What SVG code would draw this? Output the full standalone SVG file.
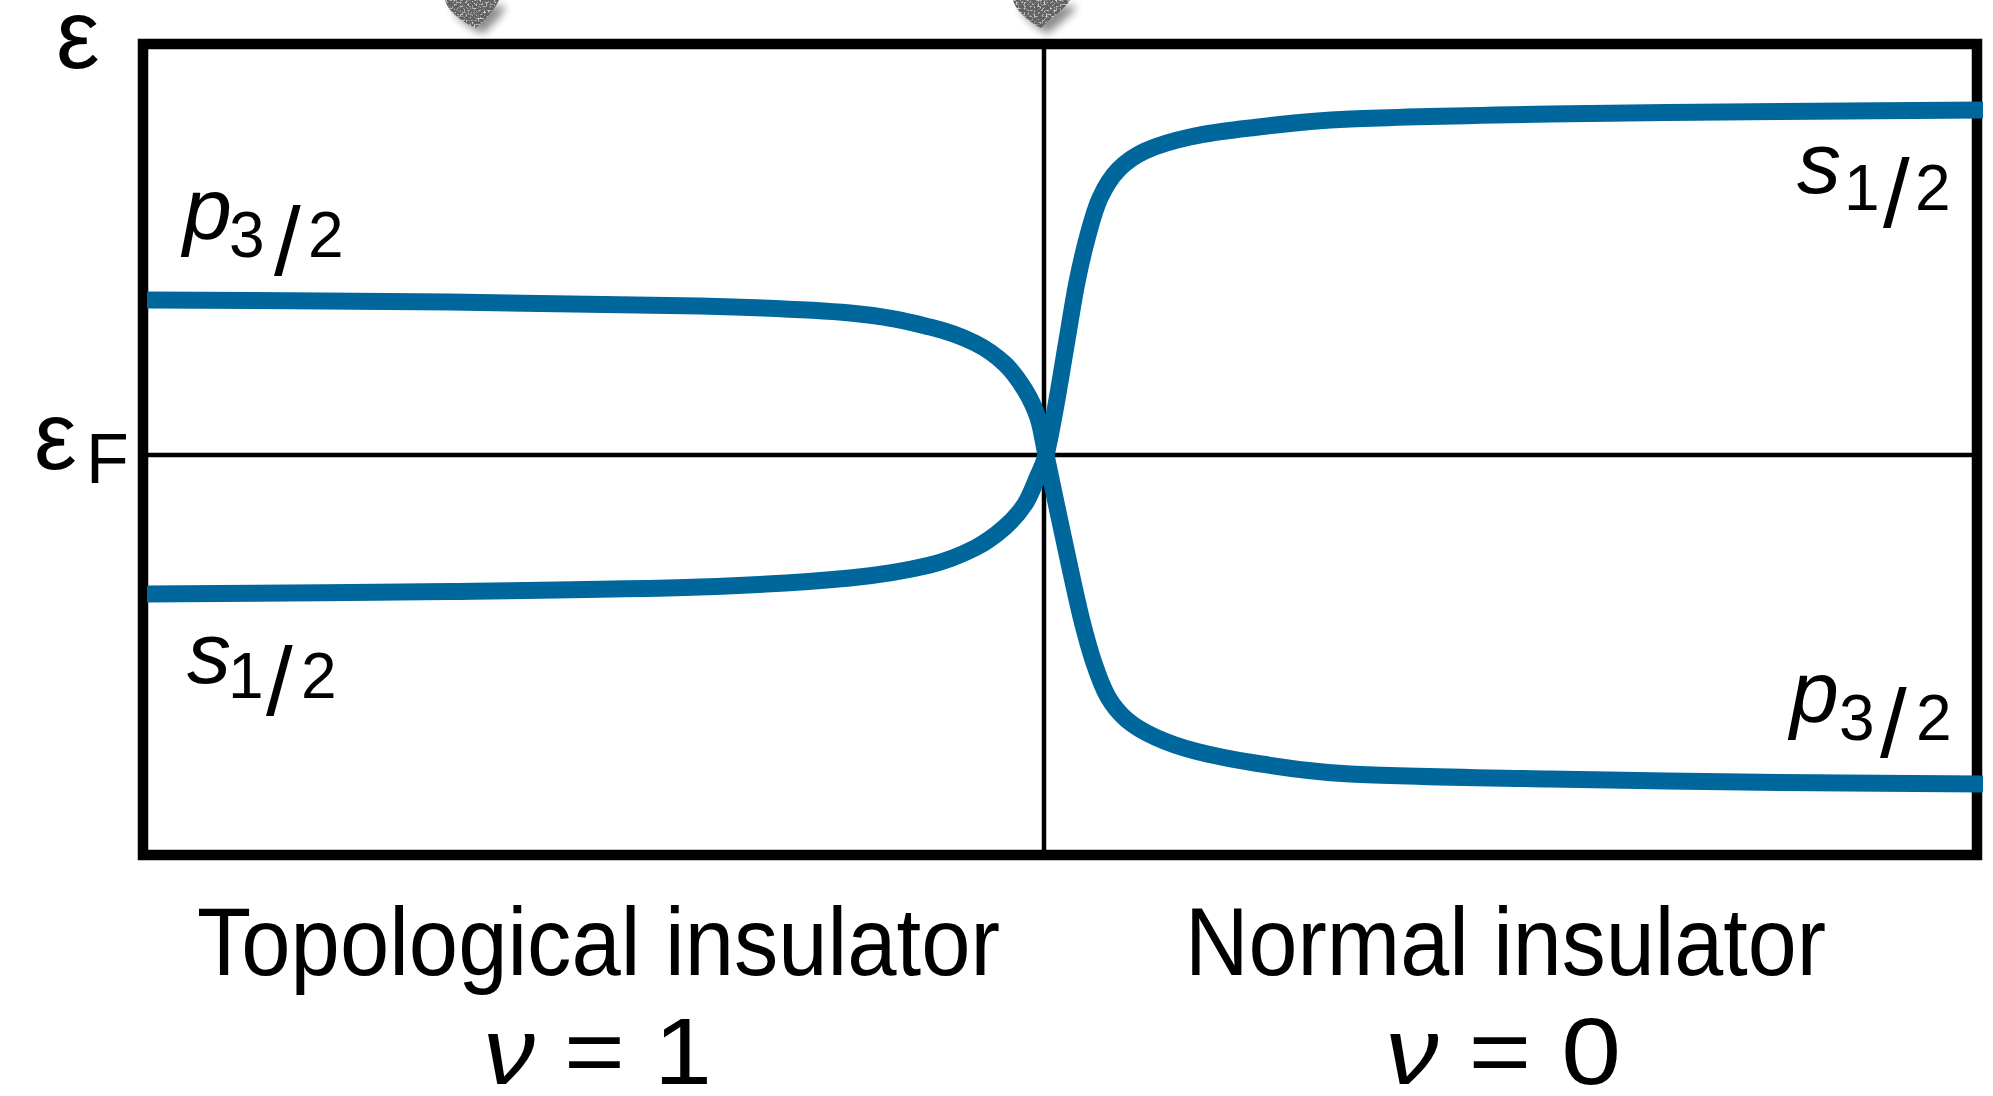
<svg xmlns="http://www.w3.org/2000/svg" width="1993" height="1096" viewBox="0 0 1993 1096">
  <defs>
    <filter id="pin" x="-60%" y="-60%" width="220%" height="220%">
      <feTurbulence type="fractalNoise" baseFrequency="0.5" numOctaves="2" seed="7" result="noise"/>
      <feColorMatrix in="noise" type="matrix" values="0 0 0 0 0.85  0 0 0 0 0.85  0 0 0 0 0.85  3 0 0 0 -1.5" result="specks"/>
      <feComposite in="specks" in2="SourceGraphic" operator="in" result="specksIn"/>
      <feMerge result="tex"><feMergeNode in="SourceGraphic"/><feMergeNode in="specksIn"/></feMerge>
      <feGaussianBlur in="SourceAlpha" stdDeviation="4" result="blur"/>
      <feOffset in="blur" dx="7" dy="6" result="off"/>
      <feComponentTransfer in="off" result="sh"><feFuncA type="linear" slope="0.45"/></feComponentTransfer>
      <feMerge><feMergeNode in="sh"/><feMergeNode in="tex"/></feMerge>
    </filter>
  </defs>
  <style>
    .frame { fill: none; stroke: #000; stroke-width: 10.5; }
    .axis { fill: none; stroke: #000; stroke-width: 4.5; }
    .band { fill: none; stroke: #00679c; stroke-width: 17; stroke-linecap: butt; stroke-linejoin: round; }
    .txt { font-family: "Liberation Sans", Arial, sans-serif; fill: #000; }
    .it { font-style: italic; }
    .blob { fill: #626262; filter: url(#pin); }
  </style>

  <g id="pins">
    <path class="blob" d="M445,0 C447,10 461,22 476,28 C487,18 496,8 499,0 Z"/>
    <path class="blob" d="M1013,0 C1015,10 1029,22 1041,28 C1052,18 1066,8 1070,0 Z"/>
  </g>

  <g id="frame">
    <rect class="frame" x="143" y="44" width="1834" height="811"/>
    <line class="axis" x1="1044" y1="49" x2="1044" y2="850"/>
    <line class="axis" x1="148" y1="455" x2="1972" y2="455"/>
  </g>

  <g id="bands">
    <path id="band-a" class="band" d="M147,300 C197.5,300.3 357.8,301 450,302 C542.2,303 633.3,304.2 700,306 C766.7,307.8 811.7,309.5 850,313 C888.3,316.5 909.2,322 930,327 C950.8,332 962.5,336.8 975,343 C987.5,349.2 996.7,356.2 1005,364 C1013.3,371.8 1019.5,381 1025,390 C1030.5,399 1034.5,407.2 1038,418 C1041.5,428.8 1042.7,439.3 1046,455 C1049.3,470.7 1054,493.2 1058,512 C1062,530.8 1066,549.8 1070,568 C1074,586.2 1078,605.2 1082,621 C1086,636.8 1089.7,650.3 1094,663 C1098.3,675.7 1102.5,687.5 1108,697 C1113.5,706.5 1119.2,713.3 1127,720 C1134.8,726.7 1143.7,731.8 1155,737 C1166.3,742.2 1178.3,746.7 1195,751 C1211.7,755.3 1229.2,759.2 1255,763 C1280.8,766.8 1300.8,771.3 1350,774 C1399.2,776.7 1478.3,777.6 1550,779 C1621.7,780.4 1707.8,781.7 1780,782.5 C1852.2,783.3 1949.2,783.75 1983,784"/>
    <path id="band-b" class="band" d="M147,594 C197.5,593.4 357.8,592.7 450,591.5 C542.2,590.3 633.3,589.25 700,587 C766.7,584.75 811.7,581.7 850,578 C888.3,574.3 909.2,570 930,565 C950.8,560 962.5,554.3 975,548 C987.5,541.7 996.7,534.3 1005,527 C1013.3,519.7 1019.7,512.2 1025,504 C1030.3,495.8 1033.5,486.2 1037,478 C1040.5,469.8 1042.8,467.2 1046,455 C1049.2,442.8 1052.5,424.2 1056,405 C1059.5,385.8 1063.5,360.5 1067,340 C1070.5,319.5 1073.5,299.5 1077,282 C1080.5,264.5 1084.2,249 1088,235 C1091.8,221 1095,208.8 1100,198 C1105,187.2 1110.5,177.8 1118,170 C1125.5,162.2 1133,156.5 1145,151 C1157,145.5 1172.5,140.8 1190,137 C1207.5,133.2 1223.3,131 1250,128 C1276.7,125 1300,121.3 1350,119 C1400,116.7 1478.3,115.25 1550,114 C1621.7,112.75 1707.8,112.2 1780,111.5 C1852.2,110.8 1949.2,110.25 1983,110"/>
  </g>

  <g id="axis-labels">
    <text class="txt" x="56" y="68" font-size="98">ε</text>
    <text class="txt" x="34" y="469" font-size="96">ε</text>
    <text class="txt" x="86" y="483" font-size="70">F</text>
  </g>

  <g id="label-p-left">
    <text class="txt it" x="183" y="239" font-size="88">p</text>
    <text class="txt" x="229" y="257" font-size="64">3</text>
    <text class="txt" x="274" y="275" font-size="96">/</text>
    <text class="txt" x="308" y="257" font-size="64">2</text>
  </g>

  <g id="label-s-left">
    <text class="txt it" x="187" y="683" font-size="88">s</text>
    <text class="txt" x="228" y="698" font-size="64">1</text>
    <text class="txt" x="266" y="715" font-size="96">/</text>
    <text class="txt" x="301" y="698" font-size="64">2</text>
  </g>

  <g id="label-s-right">
    <text class="txt it" x="1797" y="193" font-size="88">s</text>
    <text class="txt" x="1844" y="210" font-size="64">1</text>
    <text class="txt" x="1883" y="227" font-size="96">/</text>
    <text class="txt" x="1915" y="210" font-size="64">2</text>
  </g>

  <g id="label-p-right">
    <text class="txt it" x="1790" y="722" font-size="88">p</text>
    <text class="txt" x="1839" y="740" font-size="64">3</text>
    <text class="txt" x="1880" y="757" font-size="96">/</text>
    <text class="txt" x="1916" y="740" font-size="64">2</text>
  </g>

  <g id="phase-labels">
    <text class="txt" x="598.5" y="975" font-size="96" text-anchor="middle" textLength="803" lengthAdjust="spacingAndGlyphs">Topological insulator</text>
    <text class="txt" x="1505.5" y="975" font-size="96" text-anchor="middle" textLength="641" lengthAdjust="spacingAndGlyphs">Normal insulator</text>
    <text class="txt" x="597.5" y="1084" font-size="94" text-anchor="middle" textLength="229" lengthAdjust="spacingAndGlyphs"><tspan class="it">ν</tspan> = 1</text>
    <text class="txt" x="1503" y="1084" font-size="94" text-anchor="middle" textLength="236" lengthAdjust="spacingAndGlyphs"><tspan class="it">ν</tspan> = 0</text>
  </g>
</svg>
